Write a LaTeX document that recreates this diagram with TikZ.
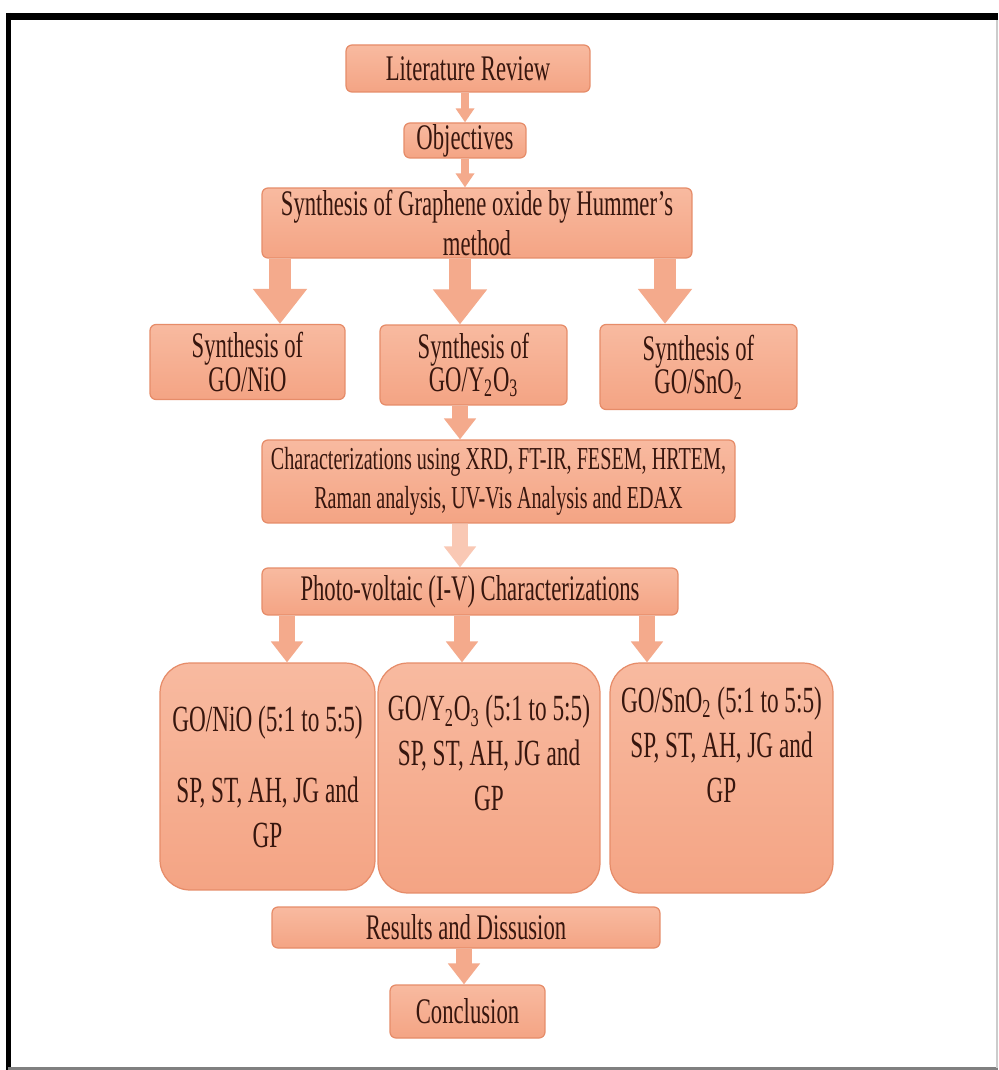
\documentclass[tikz,border=0pt]{standalone}
\usepackage{fontspec}
\setmainfont[FakeStretch=0.63]{Liberation Serif}
\usetikzlibrary{arrows.meta}
\definecolor{boxtop}{RGB}{248,186,160}
\definecolor{boxfill}{RGB}{244,164,132}
\definecolor{boxline}{RGB}{230,140,105}
\definecolor{arrowfill}{RGB}{244,170,140}
\definecolor{paleshaft}{RGB}{249,200,180}
\definecolor{textbrown}{RGB}{55,22,14}

\tikzset{
  stepbox/.style={draw=boxline, line width=0.7pt, top color=boxtop, bottom color=boxfill,
    rounded corners=0.12cm, text=textbrown, align=center, inner sep=0pt,
    font=\fontsize{20.5}{19}\selectfont},
  resultbox/.style={stepbox, rounded corners=0.6cm, font=\fontsize{21}{25.6}\selectfont},
  thinarrow/.style={arrowfill, line width=0.16cm, -{Triangle[width=0.36cm,length=0.28cm]}},
  bigarrow/.style={arrowfill, line width=0.44cm, -{Triangle[width=1.04cm,length=0.7cm]}},
  midarrow/.style={arrowfill, line width=0.32cm, -{Triangle[width=0.62cm,length=0.42cm]}}
}

\begin{document}
\begin{tikzpicture}[x=0.02cm,y=-0.02cm]
  \useasboundingbox (0,0) rectangle (998,1070);
  \fill[white] (0,0) rectangle (998,1070);

  % frame
  \draw[line width=0.14cm] (6,16.5) -- (998,16.5);
  \draw[line width=0.1cm] (8.5,13) -- (8.5,1070);
  \draw[gray, line width=0.05cm] (8,1068.5) -- (998,1068.5);
  \draw[gray!40, line width=0.04cm] (996.5,20) -- (996.5,1068);

  % steps
  \node[stepbox, minimum width=4.88cm, minimum height=0.94cm] (lit) at (468,68.5) {Literature Review};
  \node[stepbox, minimum width=2.44cm, minimum height=0.7cm] (obj) at (465,140.5) {Objectives};
  \node[stepbox, minimum width=8.6cm, minimum height=1.4cm, font=\fontsize{20.5}{22.8}\selectfont] (gox) at (477,223) {Synthesis of Graphene oxide by Hummer’s\\method};

  \node[stepbox, minimum width=3.9cm, minimum height=1.5cm] (sni) at (247.5,362) {Synthesis of\\GO/NiO};
  \node[stepbox, minimum width=3.74cm, minimum height=1.6cm] (sny) at (473.5,365) {Synthesis of\\GO/Y\textsubscript{2}O\textsubscript{3}};
  \node[stepbox, minimum width=3.94cm, minimum height=1.7cm] (sns) at (698.5,367) {Synthesis of\\GO/SnO\textsubscript{2}};

  \node[stepbox, minimum width=9.46cm, minimum height=1.66cm, font=\fontsize{18.2}{22.2}\selectfont] (char) at (498.5,481.5) {Characterizations using XRD, FT-IR, FESEM, HRTEM,\\Raman analysis, UV-Vis Analysis and EDAX};
  \node[stepbox, minimum width=8.32cm, minimum height=0.94cm] (pv) at (470,591.5) {Photo-voltaic (I-V) Characterizations};

  % ratio boxes
  \node[resultbox, minimum width=4.3cm, minimum height=4.54cm] (ni) at (267.5,776.5) {GO/NiO (5:1 to 5:5)\\[0.52cm]SP, ST, AH, JG and\\GP};
  \node[resultbox, minimum width=4.44cm, minimum height=4.6cm] (yo) at (489,778) {GO/Y\textsubscript{2}O\textsubscript{3} (5:1 to 5:5)\\SP, ST, AH, JG and\\GP\\[0.1cm]\mbox{}};
  \node[resultbox, minimum width=4.46cm, minimum height=4.6cm] (sno) at (721.5,778) {GO/SnO\textsubscript{2} (5:1 to 5:5)\\SP, ST, AH, JG and\\GP\\[0.44cm]\mbox{}};

  \node[stepbox, minimum width=7.76cm, minimum height=0.82cm] (res) at (466,927.5) {Results and Dissusion};
  \node[stepbox, minimum width=3.1cm, minimum height=1.06cm] (con) at (467.5,1011.5) {Conclusion};

  % arrows
  \draw[thinarrow] (lit.south -| obj) -- (obj.north);
  \draw[thinarrow] (obj.south) -- (obj.south |- gox.north);

  \draw[bigarrow] (gox.south -| 280,0) -- (sni.north -| 280,0);
  \draw[bigarrow] (gox.south -| 460,0) -- (sny.north -| 460,0);
  \draw[bigarrow] (gox.south -| 665,0) -- (sns.north -| 665,0);

  \draw[midarrow] (sny.south -| 460,0) -- (char.north -| 460,0);
  \draw[midarrow, paleshaft] (char.south -| 460,0) -- (pv.north -| 460,0);

  \draw[midarrow] (pv.south -| 287,0) -- (ni.north -| 287,0);
  \draw[midarrow] (pv.south -| 462,0) -- (yo.north -| 462,0);
  \draw[midarrow] (pv.south -| 647,0) -- (sno.north -| 647,0);

  \draw[midarrow] (res.south -| 464,0) -- (con.north -| 464,0);
\end{tikzpicture}
\end{document}
